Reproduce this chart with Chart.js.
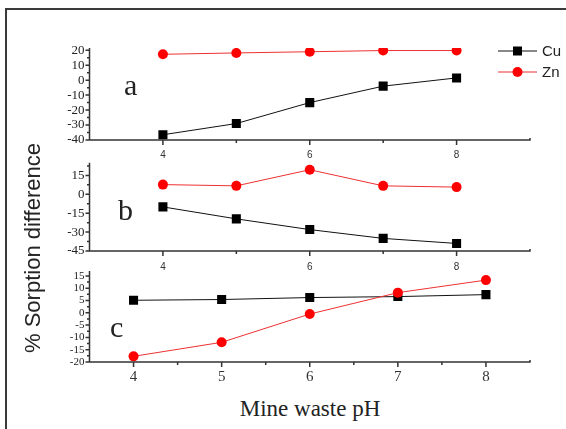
<!DOCTYPE html>
<html>
<head>
<meta charset="UTF-8">
<title>% Sorption difference vs mine waste pH</title>
<script src="https://cdn.jsdelivr.net/npm/chart.js"></script>
<style>
  body { margin: 0; width: 566px; height: 429px; overflow: hidden; background: #fff; position: relative; }
  .frame { position: absolute; left: 5px; top: 8px; width: 620px; height: 480px; border: 2px solid #3a3a3a; }
  canvas { position: absolute; left: 0; }
  .panel { position: absolute; font: 30px "Liberation Serif", serif; line-height: 1; color: #222; }
  #ytitle { position: absolute; left: 33px; top: 248px; transform: translate(-50%, -50%) rotate(-90deg);
            font: 22px "Liberation Sans", Arial, sans-serif; white-space: nowrap; color: #222; }
  #xtitle { position: absolute; left: 310px; top: 397px; transform: translateX(-50%);
            font: 23px "Liberation Serif", serif; line-height: 1; white-space: nowrap; color: #222; }
</style>
</head>
<body>
<div class="frame"></div>
<canvas id="chartA" width="566" height="150" style="top:20px"></canvas>
<canvas id="chartB" width="566" height="130" style="top:150px"></canvas>
<canvas id="chartC" width="566" height="130" style="top:259px"></canvas>
<div class="panel" style="left:124px; top:70px">a</div>
<div class="panel" style="left:118px; top:195px">b</div>
<div class="panel" style="left:110px; top:312px">c</div>
<div id="ytitle">% Sorption difference</div>
<div id="xtitle">Mine waste pH</div>

<script>
// pH values (same for all panels)
const ph = [4, 5, 6, 7, 8];

// panel a
const cuA = [-36.5, -29, -15, -4, 1.5];
const znA = [17.3, 18.2, 19, 19.8, 19.8];
// panel b
const cuB = [-10, -19.5, -28, -35, -39];
const znB = [7.7, 6.7, 19.5, 6.7, 5.7];
// panel c
const cuC = [5.1, 5.4, 6.2, 6.6, 7.4];
const znC = [-17.7, -12, -0.5, 8.2, 13.3];

// axis ticks
const yTicksA = [-40, -30, -20, -10, 0, 10, 20];
const yMinorA = [-35, -25, -15, -5, 5, 15];
const yTicksB = [-45, -30, -15, 0, 15];
const yMinorB = [-37.5, -22.5, -7.5, 7.5, 22.5];
const yTicksC = [-20, -15, -10, -5, 0, 5, 10, 15];
const yMinorC = [-17.5, -12.5, -7.5, -2.5, 2.5, 7.5, 12.5];
const xTicksAB = [4, 5, 6, 7, 8];
const xLabelsAB = ['4', '', '6', '', '8'];
const xTicksC = [4, 5, 6, 7, 8];
const xLabelsC = ['4', '5', '6', '7', '8'];
const xMinorC = [4.5, 5.5, 6.5, 7.5];

const serif = '"Liberation Serif", "Times New Roman", serif';
const sans = '"Liberation Sans", Arial, sans-serif';

// axis lines + major/minor tick marks drawn through the chart scales
const axesPlugin = {
    id: 'axes',
    afterDraw(chart, args, o) {
        const { ctx, chartArea: a, scales: { x, y } } = chart;
        ctx.save();
        ctx.strokeStyle = '#333';
        ctx.lineWidth = 1.5;
        ctx.beginPath();
        ctx.moveTo(a.left, a.top);
        ctx.lineTo(a.left, a.bottom);
        ctx.lineTo(a.right, a.bottom);
        ctx.lineTo(a.right, a.bottom - 2);
        y.ticks.forEach(t => {
            const py = y.getPixelForValue(t.value);
            ctx.moveTo(a.left - 4, py); ctx.lineTo(a.left, py);
        });
        (o.yMinor || []).forEach(v => {
            const py = y.getPixelForValue(v);
            ctx.moveTo(a.left - 2.5, py); ctx.lineTo(a.left, py);
        });
        x.ticks.forEach(t => {
            const px = x.getPixelForValue(t.value);
            const len = t.label ? 5 : 3;
            ctx.moveTo(px, a.bottom); ctx.lineTo(px, a.bottom + len);
        });
        (o.xMinor || []).forEach(v => {
            const px = x.getPixelForValue(v);
            ctx.moveTo(px, a.bottom); ctx.lineTo(px, a.bottom + 3);
        });
        ctx.stroke();
        ctx.restore();
    }
};

// legend for panel a, placed to the right of the plot
const legendPlugin = {
    id: 'sideLegend',
    afterDraw(chart, args, o) {
        if (!o.show) return;
        const ctx = chart.ctx;
        const top = chart.canvas.offsetTop;
        ctx.save();
        chart.data.datasets.forEach((ds, i) => {
            const yy = (ds.label === 'Cu' ? 51 : 72) - top;
            ctx.strokeStyle = ds.borderColor;
            ctx.lineWidth = 1;
            ctx.beginPath();
            ctx.moveTo(498, yy); ctx.lineTo(537, yy);
            ctx.stroke();
            ctx.fillStyle = ds.pointBackgroundColor;
            ctx.beginPath();
            if (ds.pointStyle === 'rect') ctx.rect(513, yy - 4.5, 9, 9);
            else ctx.arc(517.5, yy, 5, 0, Math.PI * 2);
            ctx.fill();
            ctx.fillStyle = '#222';
            ctx.font = '15px ' + sans;
            ctx.textBaseline = 'middle';
            ctx.fillText(ds.label, 542, yy + 1);
        });
        ctx.restore();
    }
};

function makeChart(id, cu, zn, cfg) {
    const pts = arr => ph.map((v, i) => ({ x: v, y: arr[i] }));
    return new Chart(document.getElementById(id), {
        type: 'line',
        data: {
            datasets: [
                { label: 'Cu', data: pts(cu), borderColor: '#111', borderWidth: 1,
                  pointStyle: 'rect', pointRadius: 6.4, pointBackgroundColor: '#000',
                  pointBorderColor: '#000', pointBorderWidth: 0, order: 1 },
                { label: 'Zn', data: pts(zn), borderColor: '#ee3030', borderWidth: 1,
                  pointStyle: 'circle', pointRadius: 5, pointBackgroundColor: '#ff0000',
                  pointBorderColor: '#ff0000', pointBorderWidth: 0, order: 0 }
            ]
        },
        options: {
            responsive: false,
            animation: false,
            layout: { padding: { top: cfg.padTop, right: 36, left: 0, bottom: 0 } },
            plugins: {
                legend: { display: false },
                tooltip: { enabled: false },
                axes: { yMinor: cfg.yMinor, xMinor: cfg.xMinor },
                sideLegend: { show: cfg.legend }
            },
            scales: {
                x: {
                    type: 'linear', min: cfg.xMin, max: cfg.xMax,
                    grid: { display: false, drawTicks: false },
                    border: { display: false },
                    afterBuildTicks: s => { s.ticks = cfg.xTicks.map(v => ({ value: v })); },
                    afterFit: s => { s.height = cfg.xHeight; },
                    ticks: {
                        autoSkip: false, maxRotation: 0, padding: cfg.xPad,
                        color: '#333', font: cfg.xFont,
                        callback: (v, i) => cfg.xLabels[i]
                    }
                },
                y: {
                    min: cfg.yMin, max: cfg.yMax,
                    grid: { display: false, drawTicks: false },
                    border: { display: false },
                    afterBuildTicks: s => { s.ticks = cfg.yTicks.map(v => ({ value: v })); },
                    afterFit: s => { s.width = 89.5; },
                    ticks: {
                        autoSkip: false, padding: 5, color: '#222', font: cfg.yFont,
                        callback: v => String(v)
                    }
                }
            }
        },
        plugins: [axesPlugin, legendPlugin]
    });
}

makeChart('chartA', cuA, znA, {
    padTop: 28, xHeight: 30, xMin: 3, xMax: 9, yMin: -40, yMax: 21.5,
    xTicks: xTicksAB, xLabels: xLabelsAB, xMinor: [], xPad: 9,
    xFont: { family: sans, size: 10 },
    yTicks: yTicksA, yMinor: yMinorA, yFont: { family: serif, size: 13 },
    legend: true
});

makeChart('chartB', cuB, znB, {
    padTop: 12, xHeight: 29, xMin: 3, xMax: 9, yMin: -45, yMax: 25,
    xTicks: xTicksAB, xLabels: xLabelsAB, xMinor: [], xPad: 10,
    xFont: { family: sans, size: 10 },
    yTicks: yTicksB, yMinor: yMinorB, yFont: { family: serif, size: 13 },
    legend: false
});

makeChart('chartC', cuC, znC, {
    padTop: 12, xHeight: 27, xMin: 3.5, xMax: 8.5, yMin: -20, yMax: 17,
    xTicks: xTicksC, xLabels: xLabelsC, xMinor: xMinorC, xPad: 6,
    xFont: { family: serif, size: 15 },
    yTicks: yTicksC, yMinor: yMinorC, yFont: { family: serif, size: 11, lineHeight: 1 },
    legend: false
});
</script>
</body>
</html>
